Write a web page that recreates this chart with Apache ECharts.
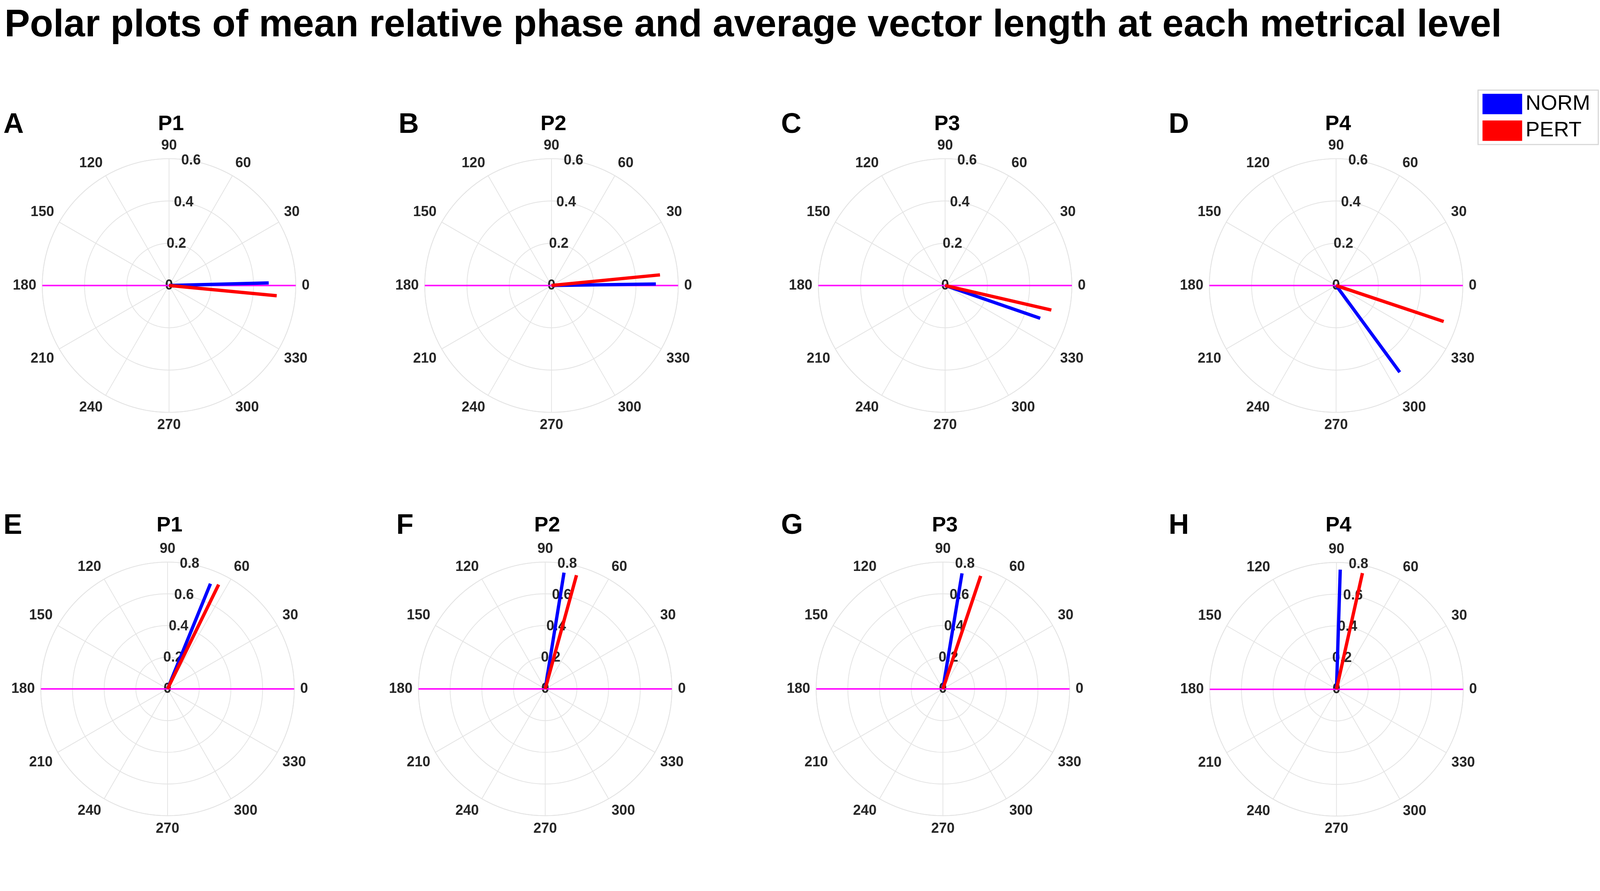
<!DOCTYPE html>
<html>
<head>
<meta charset="utf-8">
<script src="https://cdn.jsdelivr.net/npm/echarts@6/dist/echarts.min.js"></script>
<style>
  html, body { margin: 0; padding: 0; background: #fff; overflow: hidden; }
  #chart { width: 100vw; height: 100vh; }
</style>
</head>
<body>
<div id="chart"></div>
<script>
// values
var letters = ['A', 'B', 'C', 'D', 'E', 'F', 'G', 'H'];
var panelTitles = ['P1', 'P2', 'P3', 'P4', 'P1', 'P2', 'P3', 'P4'];
var radialMax = [0.6, 0.6, 0.6, 0.6, 0.8, 0.8, 0.8, 0.8];
var normAngle = [1.5, 0.8, 341, 306.3, 67.8, 80.8, 80.6, 88.2];
var normLength = [0.472, 0.494, 0.476, 0.509, 0.717, 0.743, 0.739, 0.755];
var pertAngle = [354.6, 5.6, 347, 341.5, 63.9, 74.6, 71.5, 77.4];
var pertLength = [0.512, 0.516, 0.516, 0.537, 0.733, 0.744, 0.752, 0.751];
var seriesNames = ['NORM', 'PERT'];

// layout, in pixels of the 4317 wide reference
var centerX = [456, 1488, 2550, 3605, 452, 1471, 2544, 3606];
var centerY = [770, 770, 770, 770, 1858, 1858, 1858, 1859];
var letterX = [4, 1070, 2102, 3148, 4, 1064, 2102, 3148];
var rowTop = [294, 1376];
var titleTop = [302, 1384];
var R = 342;
var FONT = '"Liberation Sans", Arial, Helvetica, sans-serif';
var gridColor = '#e3e3e3';
var labelColor = '#262626';

var dom = document.getElementById('chart');
var s = dom.clientWidth / 4317;
function px(v) { return Math.round(v * s * 10) / 10; }

var chart = echarts.init(dom, null, { renderer: 'canvas' });

var titles = [{
  text: 'Polar plots of mean relative phase and average vector length at each metrical level',
  left: px(12),
  top: px(18),
  padding: 0,
  textStyle: { fontFamily: FONT, fontSize: px(103), fontWeight: 'bold', color: '#000' }
}];
var polar = [], angleAxis = [], radiusAxis = [], series = [];

for (var i = 0; i < 8; i++) {
  var row = i < 4 ? 0 : 1;
  titles.push({
    text: letters[i],
    left: px(letterX[i]),
    top: px(rowTop[row]),
    textStyle: { fontFamily: FONT, fontSize: px(76), fontWeight: 'bold', color: '#000' }
  });
  titles.push({
    text: panelTitles[i],
    left: px(centerX[i]),
    textAlign: 'center',
    top: px(titleTop[row]),
    textStyle: { fontFamily: FONT, fontSize: px(57), fontWeight: 'bold', color: '#000' }
  });

  // main polar: grid, angle labels, data
  polar.push({ center: [px(centerX[i]), px(centerY[i])], radius: px(R) });
  angleAxis.push({
    polarIndex: 2 * i,
    type: 'value',
    min: 0,
    max: 360,
    interval: 30,
    startAngle: 0,
    clockwise: false,
    axisLine: { lineStyle: { color: gridColor, width: px(2) } },
    axisTick: { show: false },
    splitLine: { lineStyle: { color: gridColor, width: px(2) } },
    axisLabel: {
      margin: px(16),
      fontFamily: FONT,
      fontSize: px(38),
      fontWeight: 'bold',
      color: labelColor,
      formatter: function (v) { return v === 360 ? '' : String(v); }
    }
  });
  radiusAxis.push({
    polarIndex: 2 * i,
    type: 'value',
    min: 0,
    max: radialMax[i],
    interval: 0.2,
    axisLine: { show: false },
    axisTick: { show: false },
    axisLabel: { show: false },
    splitLine: { lineStyle: { color: gridColor, width: px(2) } }
  });

  // second polar, turned to 80 deg, only for the radial tick labels
  polar.push({ center: [px(centerX[i]), px(centerY[i])], radius: px(R) });
  angleAxis.push({
    polarIndex: 2 * i + 1,
    type: 'value',
    min: 0,
    max: 360,
    startAngle: 80,
    show: false
  });
  radiusAxis.push({
    polarIndex: 2 * i + 1,
    type: 'value',
    min: 0,
    max: radialMax[i],
    interval: 0.2,
    axisLine: { show: false },
    axisTick: { show: false },
    splitLine: { show: false },
    axisLabel: {
      margin: 0,
      align: 'center',
      verticalAlign: 'middle',
      fontFamily: FONT,
      fontSize: px(38),
      fontWeight: 'bold',
      color: labelColor,
      formatter: function (v) { return v === 0 ? '0' : v.toFixed(1); }
    }
  });

  series.push({
    type: 'line',
    coordinateSystem: 'polar',
    polarIndex: 2 * i,
    data: [[radialMax[i], 0], [radialMax[i], 180]],
    symbol: 'none',
    silent: true,
    lineStyle: { color: '#ff00ff', width: px(4) },
    z: 3
  });
  series.push({
    name: seriesNames[0],
    type: 'line',
    coordinateSystem: 'polar',
    polarIndex: 2 * i,
    data: [[0, normAngle[i]], [normLength[i], normAngle[i]]],
    symbol: 'none',
    itemStyle: { color: '#0000ff' },
    lineStyle: { color: '#0000ff', width: px(9), cap: 'butt' },
    z: 4
  });
  series.push({
    name: seriesNames[1],
    type: 'line',
    coordinateSystem: 'polar',
    polarIndex: 2 * i,
    data: [[0, pertAngle[i]], [pertLength[i], pertAngle[i]]],
    symbol: 'none',
    itemStyle: { color: '#ff0000' },
    lineStyle: { color: '#ff0000', width: px(9), cap: 'butt' },
    z: 5
  });
}

var option = {
  backgroundColor: '#fff',
  animation: false,
  title: titles,
  legend: {
    data: [
      { name: seriesNames[0], icon: 'rect' },
      { name: seriesNames[1], icon: 'rect' }
    ],
    orient: 'vertical',
    left: px(3988),
    top: px(243),
    itemWidth: px(107),
    itemHeight: px(55),
    itemGap: px(15),
    padding: [px(9), px(22), px(9), px(12)],
    borderColor: '#d6d6d6',
    borderWidth: px(3),
    textStyle: { fontFamily: FONT, fontSize: px(57), color: '#000', padding: [0, 0, 0, px(4)] }
  },
  polar: polar,
  angleAxis: angleAxis,
  radiusAxis: radiusAxis,
  series: series
};

chart.setOption(option);

window.addEventListener('resize', function () {
  chart.resize();
});
</script>
</body>
</html>
